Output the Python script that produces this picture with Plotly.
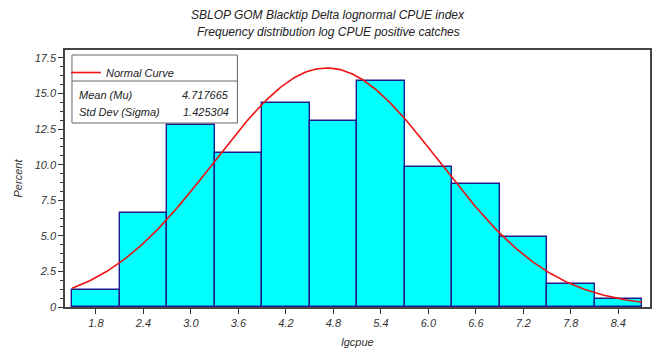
import numpy as np
import plotly.graph_objects as go

# ---- data ----
bin_centers = [1.8, 2.4, 3.0, 3.6, 4.2, 4.8, 5.4, 6.0, 6.6, 7.2, 7.8, 8.4]
percent = [1.22, 6.63, 12.81, 10.84, 14.31, 13.09, 15.86, 9.86, 8.64, 4.94, 1.60, 0.56]
tick_labels = ["1.8", "2.4", "3.0", "3.6", "4.2", "4.8", "5.4", "6.0", "6.6", "7.2", "7.8", "8.4"]
bin_width = 0.6
mu = 4.717665
sigma = 1.425304
y_ticks = [0, 2.5, 5.0, 7.5, 10.0, 12.5, 15.0, 17.5]
y_tick_labels = ["0", "2.5", "5.0", "7.5", "10.0", "12.5", "15.0", "17.5"]

# fitted normal curve (scaled to percent per bin)
x_lo = bin_centers[0] - bin_width / 2
x_hi = bin_centers[-1] + bin_width / 2
xc = np.linspace(x_lo, x_hi, 300)
yc = 100 * bin_width * np.exp(-0.5 * ((xc - mu) / sigma) ** 2) / (sigma * np.sqrt(2 * np.pi))

W, H = 656, 360
L, R, T, B = 65, 4, 50, 53
pw, ph = W - L - R, H - T - B


def px(x):
    return (x - L) / pw


def py(y):
    return (H - B - y) / ph


FONT = "Liberation Sans, Arial, sans-serif"

fig = go.Figure()
fig.add_trace(go.Bar(
    x=bin_centers, y=percent, width=bin_width,
    marker=dict(color="#00FFFF", line=dict(color="#1C1C8E", width=1.4)),
    showlegend=False, hoverinfo="x+y",
))
fig.add_trace(go.Scatter(
    x=xc, y=yc, mode="lines", name="Normal Curve",
    line=dict(color="#EE1111", width=1.6), showlegend=True,
))

fig.update_layout(
    width=W, height=H,
    margin=dict(l=L, r=R, t=T, b=B),
    paper_bgcolor="white", plot_bgcolor="white",
    bargap=0,
    font=dict(family=FONT, size=11, color="#222222", style="italic"),
    legend=dict(
        x=px(66), y=py(58), xanchor="left", yanchor="top",
        bgcolor="rgba(0,0,0,0)", borderwidth=0,
        font=dict(family=FONT, size=11, color="#222222", style="italic"),
    ),
    xaxis=dict(
        range=[1.41, 8.8],
        tickvals=bin_centers, ticktext=tick_labels,
        ticks="outside", ticklen=5, tickwidth=1.3, tickcolor="#333333",
        showline=True, linecolor="#444444", linewidth=1.5, mirror=True,
        showgrid=False, zeroline=False,
        tickfont=dict(family=FONT, size=11, color="#333333", style="italic"),
        title=dict(text="lgcpue", standoff=10,
                   font=dict(family=FONT, size=11, color="#333333", style="italic")),
    ),
    yaxis=dict(
        range=[0, 18.06],
        tickvals=y_ticks, ticktext=y_tick_labels,
        ticks="outside", ticklen=5, tickwidth=1.3, tickcolor="#333333",
        minor=dict(dtick=0.625, tick0=0, ticks="outside", ticklen=3,
                   tickwidth=1, tickcolor="#333333", showgrid=False),
        showline=True, linecolor="#444444", linewidth=1.5, mirror=True,
        showgrid=False, zeroline=False,
        tickfont=dict(family=FONT, size=11, color="#333333", style="italic"),
        title=dict(text="Percent", standoff=10,
                   font=dict(family=FONT, size=11, color="#333333", style="italic")),
    ),
)

# statistics inset box
fig.add_shape(type="rect", xref="paper", yref="paper",
              x0=px(72), x1=px(238), y0=py(123), y1=py(55),
              line=dict(color="#666666", width=1), fillcolor="rgba(0,0,0,0)", layer="above")
fig.add_shape(type="line", xref="paper", yref="paper",
              x0=px(72), x1=px(238), y0=py(81), y1=py(81),
              line=dict(color="#666666", width=1), layer="above")

stats = [("Mean (Mu)", f"{mu:.6f}", 95), ("Std Dev (Sigma)", f"{sigma:.6f}", 112)]
for label, val, yy in stats:
    fig.add_annotation(xref="paper", yref="paper", x=px(77), y=py(yy),
                       xanchor="left", yanchor="middle", text=label, showarrow=False,
                       font=dict(family=FONT, size=11, color="#222222", style="italic"))
    fig.add_annotation(xref="paper", yref="paper", x=px(232), y=py(yy),
                       xanchor="right", yanchor="middle", text=val, showarrow=False,
                       font=dict(family=FONT, size=11, color="#222222", style="italic"))

# two-line title
titles = [("SBLOP GOM Blacktip Delta lognormal CPUE index", 15),
          ("Frequency distribution log CPUE positive catches", 32)]
for txt, yy in titles:
    fig.add_annotation(xref="paper", yref="paper", x=px(329), y=py(yy),
                       xanchor="center", yanchor="middle", text=txt, showarrow=False,
                       font=dict(family=FONT, size=12, color="#222222", style="italic"))

fig.write_html("out.html")
